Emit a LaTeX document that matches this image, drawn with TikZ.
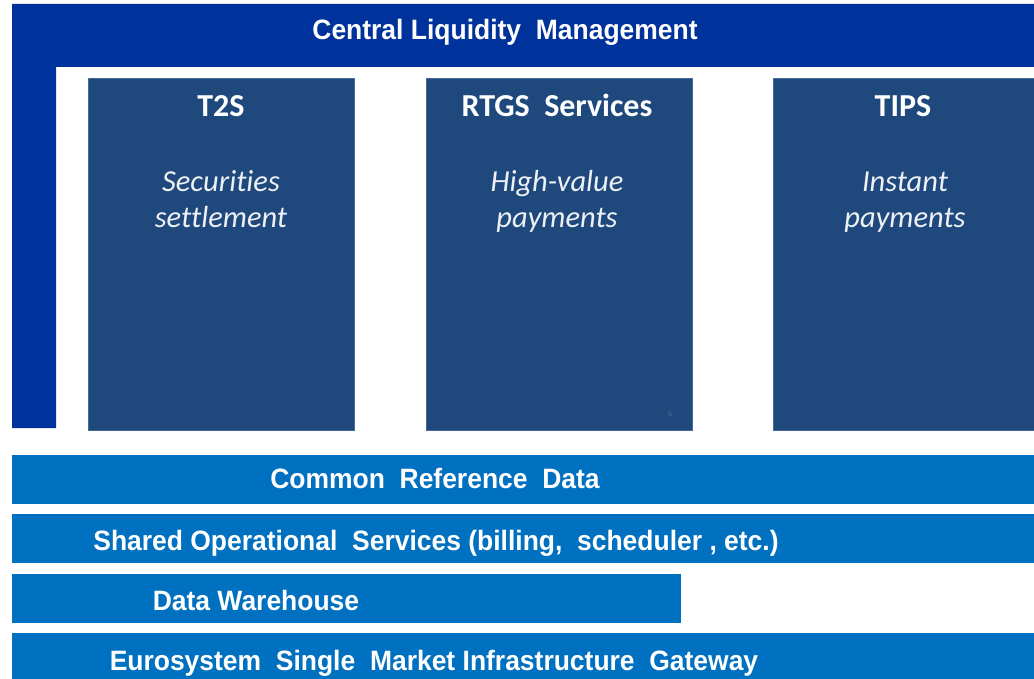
\documentclass[tikz,border=0pt]{standalone}
\usepackage{fontspec}
\setmainfont{Liberation Sans}
\newfontfamily\arnarrow[FakeStretch=0.945]{Liberation Sans}
\newfontfamily\calib[Ligatures=NoCommon]{Carlito}
\definecolor{clmblue}{RGB}{0,50,155}
\definecolor{svcblue}{RGB}{31,73,125}
\definecolor{barblue}{RGB}{0,112,192}
\definecolor{svcedge}{RGB}{70,105,150}
\begin{document}
\begin{tikzpicture}[x=1pt,y=-1pt,
  svcbox/.style={fill=svcblue,draw=svcedge,line width=0.8pt},
  barbox/.style={fill=barblue,draw=none},
  bartext/.style={text=white,anchor=base,inner sep=0pt,font=\arnarrow\bfseries\fontsize{28}{32}\selectfont},
  svctitle/.style={text=white,anchor=base,inner sep=0pt,font=\calib\bfseries\fontsize{32}{36}\selectfont},
  svcsub/.style={text=white!92!svcblue,anchor=base,inner sep=0pt,font=\calib\itshape\fontsize{30.5}{36}\selectfont}]
\fill[white] (0,0) rectangle (1034,679);
\useasboundingbox (0,0) rectangle (1034,679);
% Central Liquidity Management frame
\fill[clmblue] (12,4) -- (1034,4) -- (1034,67) -- (56,67) -- (56,428) -- (12,428) -- cycle;
\node[bartext] (clm) at (505,40) {Central Liquidity~ Management};
% service boxes
\path[svcbox] (88,78) rectangle (354,430);
\path[svcbox] (426,78) rectangle (692,430);
\path[svcbox] (773,78) rectangle (1040,430);
\node[svctitle] (t2s) at (221,117) {T2S};
\node[svcsub] (t2sa) at (221,192) {Securities};
\node[svcsub] (t2sb) at (221,228) {settlement};
\node[svctitle] (rtgs) at (557,117) {RTGS~ Services};
\node[svcsub] (rtgsa) at (557,192) {High-value};
\node[svcsub] (rtgsb) at (557,228) {payments};
\node[svctitle] (tips) at (903,117) {TIPS};
\node[svcsub] (tipsa) at (905,192) {Instant};
\node[svcsub] (tipsb) at (905,228) {payments};
\node[text=svcedge!80!gray,anchor=base,inner sep=0pt,font=\fontsize{7}{8}\selectfont] (pg) at (670,416) {5};
% horizontal bars
\path[barbox] (12,455) rectangle (1034,504);
\path[barbox] (12,514) rectangle (1034,563);
\path[barbox] (12,574) rectangle (681,623);
\path[barbox] (12,633) rectangle (1034,679);
\node[bartext] (crd) at (435,488) {Common~ Reference~ Data};
\node[bartext] (sos) at (436,550) {Shared Operational~ Services (billing,~ scheduler , etc.)};
\node[bartext] (dw) at (256,610) {Data Warehouse};
\node[bartext] (esmig) at (434,670) {Eurosystem~ Single~ Market Infrastructure~ Gateway};
\end{tikzpicture}
\end{document}
